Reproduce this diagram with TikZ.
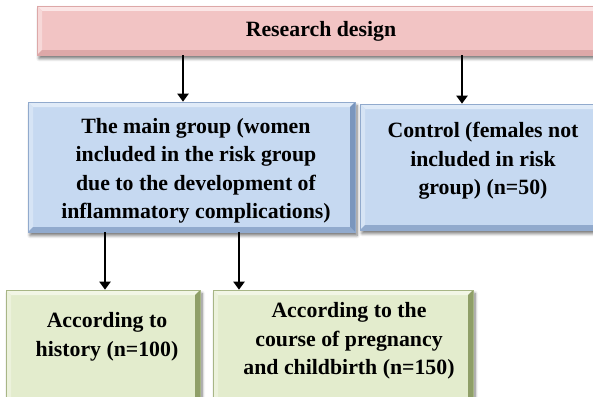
\documentclass[tikz,border=0pt]{standalone}
\usepackage{fontspec}
\setmainfont{Liberation Serif}
\usetikzlibrary{arrows.meta,shadows.blur}
\definecolor{pinkF}{HTML}{F2C4C4}
\definecolor{pinkL}{HTML}{FBE6E6}
\definecolor{pinkD}{HTML}{D49C9C}
\definecolor{blueF}{HTML}{C6D9F1}
\definecolor{blueL}{HTML}{E0EBF8}
\definecolor{blueD}{HTML}{7A96BD}
\definecolor{greenF}{HTML}{E3ECCD}
\definecolor{greenL}{HTML}{F2F6E6}
\definecolor{greenD}{HTML}{8F9F68}
\tikzset{
  bevbox/.style n args={3}{rectangle, inner sep=0pt, fill=#1, draw=#3!70!#1, line width=0.6pt,
    blur shadow={shadow xshift=2pt, shadow yshift=-3.5pt, shadow blur steps=6, shadow opacity=55, shadow blur radius=3pt},
    path picture={
      \fill[#2] (path picture bounding box.north west) -- (path picture bounding box.north east)
        -- ([xshift=-5pt,yshift=-5pt]path picture bounding box.north east)
        -- ([xshift=5pt,yshift=-5pt]path picture bounding box.north west) -- cycle;
      \fill[#2!60!#1] (path picture bounding box.north west) -- (path picture bounding box.south west)
        -- ([xshift=5pt,yshift=5pt]path picture bounding box.south west)
        -- ([xshift=5pt,yshift=-5pt]path picture bounding box.north west) -- cycle;
      \fill[#3!70!#1] (path picture bounding box.south west) -- (path picture bounding box.south east)
        -- ([xshift=-5pt,yshift=5pt]path picture bounding box.south east)
        -- ([xshift=5pt,yshift=5pt]path picture bounding box.south west) -- cycle;
      \fill[#3] (path picture bounding box.north east) -- (path picture bounding box.south east)
        -- ([xshift=-5pt,yshift=5pt]path picture bounding box.south east)
        -- ([xshift=-5pt,yshift=-5pt]path picture bounding box.north east) -- cycle;
    }},
  pinkbox/.style={bevbox={pinkF}{pinkL}{pinkD}},
  bluebox/.style={bevbox={blueF}{blueL}{blueD}},
  greenbox/.style={bevbox={greenF}{greenL}{greenD}},
  txt/.style={align=center, inner sep=0pt, font=\bfseries\fontsize{21.8}{28.5}\selectfont, text=black},
  arr/.style={line width=2.4pt, -{Triangle[length=8pt,width=11pt]}}
}
\begin{document}
\begin{tikzpicture}[x=1pt,y=-1pt]
\useasboundingbox (0,0) rectangle (593,396);
\clip (0,0) rectangle (593,396);
\node[pinkbox, minimum width=568pt, minimum height=49pt] (top) at (321,30.5) {};
\node[txt] (toptxt) at (321,31) {Research design};
\node[bluebox, minimum width=327pt, minimum height=130pt] (main) at (191.5,167) {};
\node[txt] (maintxt) at (196,171) {The main group (women\\included in the risk group\\due to the development of\\inflammatory complications)};
\node[bluebox, minimum width=246pt, minimum height=126pt] (ctrl) at (483,167) {};
\node[txt] (ctrltxt) at (483,161) {Control (females not\\included in risk\\group) (n=50)};
\node[greenbox, minimum width=194pt, minimum height=112pt] (hist) at (103,346) {};
\node[txt] (histtxt) at (107,337) {According to\\history (n=100)};
\node[greenbox, minimum width=260pt, minimum height=112pt] (preg) at (343,346) {};
\node[txt] (pregtxt) at (349,341) {According to the\\course of pregnancy\\and childbirth (n=150)};
\coordinate (c1) at (183,0);
\coordinate (c2) at (462,0);
\coordinate (c3) at (105,0);
\coordinate (c4) at (239,0);
\draw[arr] (top.south -| c1) -- (main.north -| c1);
\draw[arr] (top.south -| c2) -- (ctrl.north -| c2);
\draw[arr] (main.south -| c3) -- (hist.north -| c3);
\draw[arr] (main.south -| c4) -- (preg.north -| c4);
\end{tikzpicture}
\end{document}
